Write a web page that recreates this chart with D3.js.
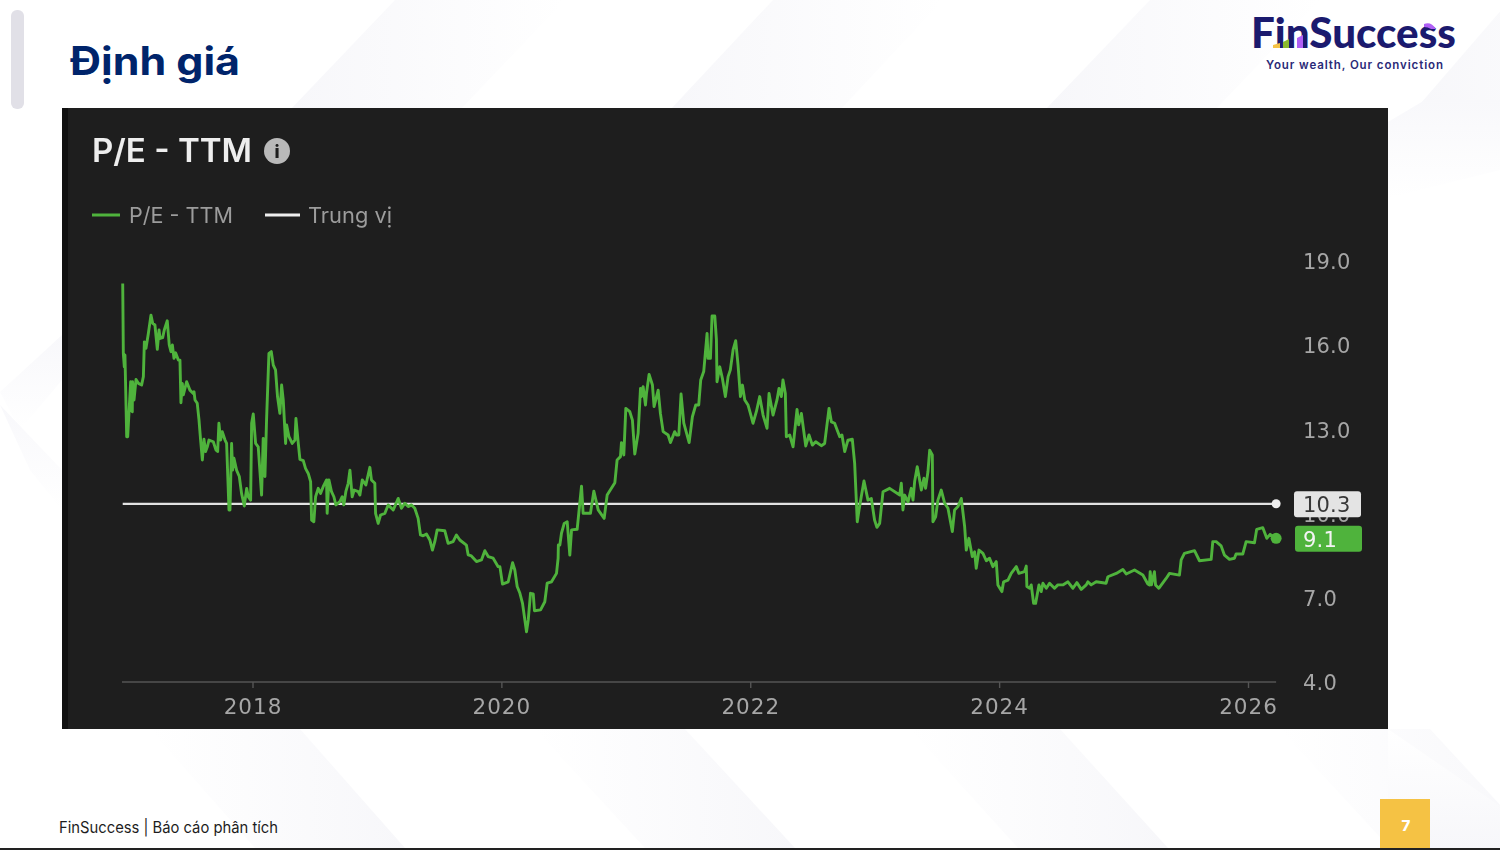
<!DOCTYPE html>
<html lang="vi">
<head>
<meta charset="utf-8">
<title>Định giá</title>
<script src="https://cdn.jsdelivr.net/npm/d3@7/dist/d3.min.js"></script>
<style>
html,body{margin:0;padding:0;background:#fff;overflow:hidden}
svg{display:block}
</style>
</head>
<body>
<svg id="page" width="1500" height="850"></svg>
<script>
// ---------- data ----------
const yearFractions = [
2016.957,2016.962,2016.970,2016.975,2016.989,2016.997,2017.021,2017.024,2017.034,2017.036,2017.048,2017.064,2017.083,2017.109,2017.123,2017.131,2017.144,2017.163,2017.184,2017.198,2017.216,2017.235,2017.249,2017.257,2017.278,2017.291,2017.315,2017.331,2017.345,2017.356,2017.369,2017.382,2017.404,2017.417,2017.425,2017.436,2017.444,2017.471,2017.497,2017.524,2017.530,2017.538,2017.556,2017.570,2017.583,2017.597,2017.610,2017.623,2017.637,2017.650,2017.685,2017.706,2017.720,2017.730,2017.744,2017.757,2017.779,2017.792,2017.811,2017.819,2017.832,2017.840,2017.851,2017.872,2017.894,2017.912,2017.934,2017.953,2017.966,2017.985,2017.993,
2018.006,2018.025,2018.046,2018.073,2018.086,2018.100,2018.113,2018.132,2018.151,2018.167,2018.185,2018.201,2018.220,2018.234,2018.247,2018.266,2018.274,2018.293,2018.319,2018.341,2018.349,2018.368,2018.381,2018.408,2018.426,2018.448,2018.467,2018.475,2018.493,2018.507,2018.528,2018.547,2018.568,2018.595,2018.600,2018.614,2018.635,2018.654,2018.670,2018.702,2018.721,2018.734,2018.750,2018.769,2018.783,2018.801,2018.817,2018.849,2018.863,2018.882,2018.911,2018.943,2018.956,2018.983,2018.989,
2019.010,2019.029,2019.064,2019.090,2019.131,2019.171,2019.197,2019.224,2019.251,2019.278,2019.304,2019.331,2019.350,2019.371,2019.398,2019.425,2019.446,2019.465,2019.484,2019.545,2019.572,2019.612,2019.639,2019.666,2019.719,2019.733,2019.759,2019.800,2019.840,2019.867,2019.894,2019.934,2019.974,2019.988,
2020.009,2020.055,2020.090,2020.108,2020.127,2020.149,2020.170,2020.202,2020.216,2020.234,2020.256,2020.266,2020.315,2020.349,2020.368,2020.403,2020.443,2020.456,2020.458,2020.470,2020.483,2020.505,2020.529,2020.550,2020.564,2020.609,2020.644,2020.657,2020.716,2020.743,2020.778,2020.826,2020.850,2020.912,2020.930,2020.957,2020.965,2020.984,
2021.000,2021.032,2021.053,2021.072,2021.099,2021.118,2021.126,2021.139,2021.158,2021.166,2021.187,2021.214,2021.227,2021.260,2021.278,2021.300,2021.340,2021.359,2021.393,2021.407,2021.426,2021.444,2021.466,2021.509,2021.535,2021.562,2021.586,2021.602,2021.626,2021.653,2021.661,2021.680,2021.693,2021.715,2021.728,2021.733,2021.755,2021.776,2021.800,2021.822,2021.840,2021.862,2021.883,2021.902,2021.921,2021.937,2021.956,2021.982,
2022.001,2022.022,2022.049,2022.076,2022.103,2022.135,2022.151,2022.183,2022.215,2022.231,2022.250,2022.263,2022.282,2022.290,2022.317,2022.344,2022.376,2022.389,2022.411,2022.446,2022.472,2022.499,2022.526,2022.571,2022.598,2022.633,2022.652,2022.678,2022.719,2022.737,2022.759,2022.785,2022.820,2022.839,2022.860,2022.874,2022.892,2022.914,2022.946,2022.973,2022.999,
2023.018,2023.040,2023.067,2023.120,2023.201,2023.214,2023.227,2023.241,2023.268,2023.294,2023.308,2023.321,2023.342,2023.361,2023.375,2023.396,2023.409,2023.428,2023.442,2023.463,2023.468,2023.490,2023.508,2023.535,2023.562,2023.589,2023.624,2023.642,2023.669,2023.696,2023.723,2023.736,2023.757,2023.784,2023.803,2023.816,2023.838,2023.870,2023.897,2023.923,2023.950,2023.977,2023.990,
2024.022,2024.036,2024.071,2024.097,2024.138,2024.159,2024.204,2024.218,2024.223,2024.245,2024.258,2024.277,2024.293,2024.320,2024.338,2024.352,2024.379,2024.405,2024.445,2024.472,2024.512,2024.553,2024.593,2024.625,2024.660,2024.700,2024.713,2024.740,2024.780,2024.860,2024.874,2024.941,2024.994,
2025.021,2025.088,2025.155,2025.195,2025.208,2025.214,2025.224,2025.248,2025.257,2025.283,2025.342,2025.369,2025.449,2025.463,2025.489,2025.570,2025.610,2025.704,2025.717,2025.744,2025.784,2025.811,2025.851,2025.891,2025.904,2025.958,2025.985,
2026.052,2026.070,2026.119,2026.151,2026.178,2026.226];

const peValues = [
18.20,15.71,15.23,15.65,12.74,12.74,14.70,13.69,13.63,14.70,14.05,14.78,14.64,14.58,14.88,16.12,15.89,16.42,17.07,16.78,16.72,15.85,16.54,16.24,16.27,16.54,16.87,16.01,15.77,16.01,15.53,15.73,15.47,15.47,13.95,14.64,14.23,14.70,14.40,14.28,14.34,14.05,13.93,13.34,12.62,11.91,12.65,12.21,12.38,12.62,12.56,12.27,12.21,13.22,12.62,12.92,12.62,12.50,10.13,10.13,12.50,11.55,11.97,11.55,11.32,10.72,10.27,10.90,10.60,10.48,13.22,
13.55,12.50,12.38,10.66,12.68,11.32,13.34,15.71,15.77,15.29,15.12,14.17,13.57,14.58,14.05,12.50,13.16,12.74,12.50,12.62,13.39,12.50,11.93,11.89,11.61,11.43,11.14,9.77,9.71,10.60,10.90,10.72,10.96,11.20,10.01,11.20,10.78,10.60,10.31,10.43,10.60,10.31,10.78,11.08,11.55,10.60,10.84,10.78,10.66,11.20,11.02,11.65,11.20,11.08,10.01,
9.65,9.95,10.01,10.31,10.13,10.54,10.19,10.37,10.25,10.31,10.19,9.83,9.24,9.21,9.27,9.06,8.70,9.00,9.42,9.39,8.94,9.00,9.24,9.06,8.88,8.53,8.49,8.29,8.35,8.68,8.47,8.41,8.11,8.11,
7.49,7.57,8.25,7.99,7.40,7.16,6.80,5.79,6.21,7.16,7.14,6.54,6.57,6.86,7.52,7.57,7.87,8.41,8.88,8.88,9.30,9.65,9.71,8.52,9.42,9.44,10.98,10.01,10.01,10.80,10.13,9.83,10.66,11.10,11.91,12.03,12.53,12.09,
13.75,13.63,13.33,12.12,12.86,14.46,14.17,14.52,13.87,14.28,14.96,14.58,13.81,14.40,13.57,12.92,12.80,12.53,12.92,12.80,12.80,14.26,13.22,12.53,13.45,13.87,13.87,14.76,15.06,16.42,15.53,15.53,17.04,17.04,16.21,14.70,15.23,14.82,14.17,14.88,15.12,15.83,16.16,15.29,14.17,14.58,14.05,13.87,
13.57,13.22,13.63,14.17,13.51,13.04,14.28,13.51,14.05,14.46,14.17,14.76,14.28,12.74,12.80,12.38,13.71,13.16,13.57,12.41,12.80,12.44,12.56,12.42,12.50,13.75,13.27,13.22,12.74,12.80,12.21,12.62,12.65,11.79,9.71,10.13,10.60,11.16,10.48,10.54,9.77,
9.51,9.65,10.78,10.90,10.66,11.08,10.13,10.66,10.42,10.90,10.48,11.14,11.67,11.20,10.84,11.26,10.90,11.49,12.26,12.09,9.71,9.89,10.48,10.84,10.37,10.19,9.36,10.13,10.25,10.54,9.53,8.70,9.12,8.47,8.64,8.05,8.70,8.58,8.32,8.41,8.11,8.29,7.46,
7.22,7.57,7.63,7.87,8.11,7.87,7.93,8.13,7.40,7.34,7.46,6.80,6.80,7.46,7.22,7.52,7.34,7.52,7.34,7.46,7.46,7.57,7.34,7.54,7.30,7.46,7.57,7.46,7.57,7.52,7.75,7.87,8.01,
7.85,7.99,7.81,7.49,7.46,7.93,7.46,7.93,7.46,7.34,7.69,7.87,7.81,8.35,8.58,8.68,8.32,8.37,9.00,9.00,8.85,8.52,8.37,8.41,8.56,8.56,9.00,
8.96,9.44,9.50,9.12,9.26,9.12];

const medianValue = 10.35;
const medianLabel = "10.3";
const lastLabel = "9.1";
const yTicks = [4, 7, 10, 13, 16, 19];
const xTicks = [2018, 2020, 2022, 2024, 2026];
const legendNames = ["P/E - TTM", "Trung vị"];
const chartTitle = "P/E - TTM";
const pageTitle = "Định giá";
const footerText = "FinSuccess | Báo cáo phân tích";
const pageNumber = "7";
const brandName = "FinSuccess";
const brandTagline = "Your wealth, Our conviction";

// ---------- palette ----------
const GREEN = "#4fb33c", NAVY = "#00246b", INK = "#1b1a6e", PANEL = "#1e1e1e", AXIS = "#a6a6a6";
const WIDE = "'DejaVu Sans', sans-serif", BODY = "Inter, 'Noto Sans', sans-serif";

const svg = d3.select("#page");
const defs = svg.append("defs");

// ---------- faint chevron background ----------
function fade(id, x1, x2, y1, y2, from) {
  const g = defs.append("linearGradient").attr("id", id).attr("x1", x1).attr("x2", x2).attr("y1", y1).attr("y2", y2);
  g.append("stop").attr("offset", 0).attr("stop-color", from);
  g.append("stop").attr("offset", 1).attr("stop-color", "#ffffff");
}
fade("fadeR", 0, 1, 0, 0, "#f7f7fa");
fade("fadeL", 1, 0, 0, 0, "#f7f7fa");
fade("fadeD", 0, 0, 0, 1, "#f8f8fb");
fade("fadeU", 0, 0, 1, 0, "#f7f7fa");
const bg = svg.append("g");
[[395, 290], [773, 670], [1150, 1045], [1510, 1415]].forEach(([t, b]) => {
  bg.append("polygon").attr("fill", "url(#fadeR)")
    .attr("points", `${t},0 ${t + 170},0 ${b + 170},110 ${b},110`);
});
[[300, 405], [685, 795], [1060, 1168], [1430, 1540]].forEach(([t, b]) => {
  bg.append("polygon").attr("fill", "url(#fadeL)")
    .attr("points", `${t},729 ${b},848 ${b - 150},848 ${t - 150},729`);
});
bg.append("polygon").attr("fill", "url(#fadeD)").attr("points", "0,392 62,335 62,380 20,430");
bg.append("polygon").attr("fill", "url(#fadeD)").attr("points", "0,405 62,470 62,510 30,470");
bg.append("polygon").attr("fill", "url(#fadeD)").attr("points", "1388,122 1425,100 1500,100 1500,170 1388,198");
bg.append("polygon").attr("fill", "url(#fadeU)").attr("points", "1388,729 1500,806 1500,848 1430,848 1388,810");

// ---------- page furniture ----------
svg.append("rect").attr("x", 11).attr("y", 10).attr("width", 13).attr("height", 99).attr("rx", 6).attr("fill", "#e1e0e7");
svg.append("text").attr("x", 70).attr("y", 75).attr("font-family", BODY).attr("font-weight", 700)
  .attr("font-size", 39).attr("textLength", 170).attr("lengthAdjust", "spacingAndGlyphs").attr("fill", NAVY).text(pageTitle);

svg.append("text").attr("x", 59).attr("y", 833).attr("font-family", BODY).attr("font-size", 15.5)
  .attr("textLength", 219).attr("lengthAdjust", "spacingAndGlyphs").attr("fill", "#1d1d1d").text(footerText);
svg.append("rect").attr("x", 1380).attr("y", 799).attr("width", 50).attr("height", 49).attr("fill", "#f5c244");
svg.append("text").attr("x", 1406).attr("y", 831).attr("text-anchor", "middle").attr("font-family", BODY)
  .attr("font-weight", 800).attr("font-size", 15).attr("fill", "#fff").text(pageNumber);
svg.append("rect").attr("x", 0).attr("y", 848).attr("width", 1500).attr("height", 2).attr("fill", "#222");

// ---------- logo ----------
const logo = svg.append("g");
logo.append("text").attr("x", 1251).attr("y", 48).attr("font-family", "Lato, Inter, sans-serif").attr("font-weight", 900)
  .attr("font-size", 42).attr("textLength", 205).attr("lengthAdjust", "spacingAndGlyphs")
  .attr("fill", INK).text(brandName);
logo.append("polygon").attr("points", "1273,45 1280,43 1280,48 1273,48").attr("fill", "#f5c244");
logo.append("polygon").attr("points", "1283,42 1289,39 1289,48 1283,48").attr("fill", "#8ab82f");
logo.append("polygon").attr("points", "1297,38 1303,35 1303,48 1297,48").attr("fill", "#b060f5");
logo.append("path").attr("d", "M1424,24 Q1431,21 1436,29 L1431,29 Q1428,27 1424,27 Z").attr("fill", "#b060f5");
logo.append("text").attr("x", 1266).attr("y", 69).attr("font-family", BODY).attr("font-weight", 600)
  .attr("font-size", 11.5).attr("textLength", 177).attr("fill", "#2a2a78").text(brandTagline);

// ---------- chart panel ----------
const panel = svg.append("g").style("filter", "blur(0.45px)");
panel.append("rect").attr("x", 62).attr("y", 108).attr("width", 1326).attr("height", 621).attr("fill", PANEL);
panel.append("rect").attr("x", 62).attr("y", 108).attr("width", 6).attr("height", 621).attr("fill", "#111");

panel.append("text").attr("x", 92).attr("y", 162).attr("font-family", BODY).attr("font-weight", 600)
  .attr("font-size", 32).attr("textLength", 160).attr("lengthAdjust", "spacingAndGlyphs")
  .attr("fill", "#eeeeee").text(chartTitle);
panel.append("circle").attr("cx", 277).attr("cy", 151).attr("r", 13).attr("fill", "#b9b9b9");
panel.append("text").attr("x", 277).attr("y", 158).attr("text-anchor", "middle").attr("font-family", BODY)
  .attr("font-weight", 800).attr("font-size", 18).attr("fill", PANEL).text("i");

// legend
const legendSpec = [
  { x1: 92, x2: 120, tx: 129, w: 104, color: GREEN, name: legendNames[0] },
  { x1: 265, x2: 300, tx: 308, w: 84, color: "#eeeeee", name: legendNames[1] }
];
legendSpec.forEach(d => {
  panel.append("line").attr("x1", d.x1).attr("x2", d.x2).attr("y1", 215).attr("y2", 215)
    .attr("stroke", d.color).attr("stroke-width", 3);
  panel.append("text").attr("x", d.tx).attr("y", 223).attr("font-family", BODY).attr("font-size", 21.5)
    .attr("textLength", d.w).attr("lengthAdjust", "spacingAndGlyphs")
    .attr("fill", "#9c9c9c").text(d.name);
});

// scales
const x = d3.scaleLinear().domain([2018, 2026]).range([252.5, 1248]);
const y = d3.scaleLinear().domain([4, 19]).range([682, 261]);

// axes
const xAxis = d3.axisBottom(x).tickValues(xTicks).tickFormat(d3.format("d")).tickSize(6).tickPadding(11);
const gx = panel.append("g").attr("transform", "translate(0,682)").call(xAxis);
gx.select(".domain").attr("d", `M122,0H${x(2026.226)}`).attr("stroke", "#555").attr("stroke-width", 1.6);
gx.selectAll("line").attr("stroke", "#555").attr("stroke-width", 1.4);
gx.selectAll("text").attr("font-family", WIDE).attr("font-size", 21.5).attr("letter-spacing", 1).attr("fill", AXIS);

const yAxis = d3.axisRight(y).tickValues(yTicks).tickFormat(d3.format(".1f")).tickSize(0).tickPadding(0);
const gy = panel.append("g").attr("transform", "translate(1303,1)").call(yAxis);
gy.select(".domain").remove();
gy.selectAll("text").attr("font-family", WIDE).attr("font-size", 21).attr("letter-spacing", 0.2).attr("fill", AXIS);

// median line
panel.append("line").attr("x1", x(yearFractions[0])).attr("x2", x(yearFractions[yearFractions.length - 1]))
  .attr("y1", y(medianValue)).attr("y2", y(medianValue)).attr("stroke", "#e2e2e2").attr("stroke-width", 2.2);

// P/E series
const line = d3.line().x((d, i) => x(yearFractions[i])).y(d => y(d));
panel.append("path").datum(peValues).attr("d", line).attr("fill", "none").attr("stroke", GREEN)
  .attr("stroke-width", 2.9).attr("stroke-linejoin", "round");

// end markers
const lastX = x(yearFractions[yearFractions.length - 1]);
const lastValue = peValues[peValues.length - 1];
panel.append("circle").attr("cx", lastX).attr("cy", y(medianValue)).attr("r", 4.5).attr("fill", "#eeeeee");
panel.append("circle").attr("cx", lastX).attr("cy", y(lastValue)).attr("r", 5.5).attr("fill", GREEN);

// value badges
[
  { v: medianValue, txt: medianLabel, fill: "#e4e4e4", ink: "#383838", bx: 1294 },
  { v: lastValue, txt: lastLabel, fill: GREEN, ink: "#f4f4f4", bx: 1295 }
].forEach(d => {
  panel.append("rect").attr("x", d.bx).attr("y", y(d.v) - 12.5).attr("width", 67).attr("height", 26).attr("rx", 3).attr("fill", d.fill);
  panel.append("text").attr("x", 1303).attr("y", y(d.v) + 8.5).attr("font-family", WIDE).attr("font-size", 21)
    .attr("letter-spacing", 0.2).attr("fill", d.ink).text(d.txt);
});
</script>
</body>
</html>
